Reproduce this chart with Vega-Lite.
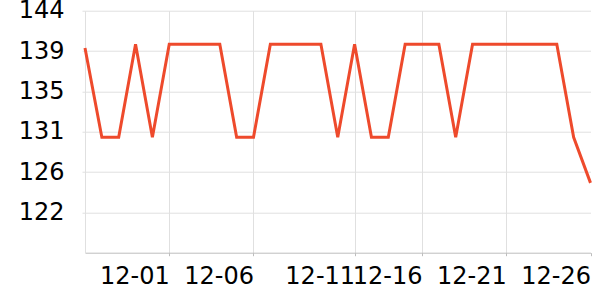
{
  "$schema": "https://vega.github.io/schema/vega-lite/v6.json",
  "autosize": "none",
  "width": 505.5,
  "height": 242,
  "padding": {"left": 85, "top": 10.7, "right": 9.5, "bottom": 47.3},
  "background": "white",
  "config": {"view": {"stroke": null}},
  "data": {"values": [
    {"time": "2023-11-26 00:00", "value": 140.0},
    {"time": "2023-11-27 00:00", "value": 130.4},
    {"time": "2023-11-28 00:00", "value": 130.4},
    {"time": "2023-11-29 00:00", "value": 140.4},
    {"time": "2023-11-30 00:00", "value": 130.4},
    {"time": "2023-12-01 00:00", "value": 140.4},
    {"time": "2023-12-02 00:00", "value": 140.4},
    {"time": "2023-12-03 00:00", "value": 140.4},
    {"time": "2023-12-04 00:00", "value": 140.4},
    {"time": "2023-12-05 00:00", "value": 130.4},
    {"time": "2023-12-06 00:00", "value": 130.4},
    {"time": "2023-12-07 00:00", "value": 140.4},
    {"time": "2023-12-08 00:00", "value": 140.4},
    {"time": "2023-12-09 00:00", "value": 140.4},
    {"time": "2023-12-09 12:00", "value": 140.4},
    {"time": "2023-12-10 00:00", "value": 130.4},
    {"time": "2023-12-11 00:00", "value": 140.4},
    {"time": "2023-12-12 00:00", "value": 130.4},
    {"time": "2023-12-13 00:00", "value": 130.4},
    {"time": "2023-12-15 00:00", "value": 140.4},
    {"time": "2023-12-16 00:00", "value": 140.4},
    {"time": "2023-12-17 00:00", "value": 140.4},
    {"time": "2023-12-18 00:00", "value": 130.4},
    {"time": "2023-12-19 00:00", "value": 140.4},
    {"time": "2023-12-20 00:00", "value": 140.4},
    {"time": "2023-12-21 00:00", "value": 140.4},
    {"time": "2023-12-22 00:00", "value": 140.4},
    {"time": "2023-12-23 00:00", "value": 140.4},
    {"time": "2023-12-24 00:00", "value": 140.4},
    {"time": "2023-12-25 00:00", "value": 130.4},
    {"time": "2023-12-26 00:00", "value": 125.5}
  ]},
  "mark": {"type": "line", "color": "#ee4a2c", "strokeWidth": 3, "strokeJoin": "miter"},
  "encoding": {
    "x": {
      "field": "time",
      "type": "ordinal",
      "sort": null,
      "scale": {"type": "point", "padding": 0},
      "axis": {
        "title": null,
        "values": ["2023-12-01 00:00", "2023-12-06 00:00", "2023-12-11 00:00", "2023-12-16 00:00", "2023-12-21 00:00", "2023-12-26 00:00"],
        "labelExpr": "slice(datum.value, 5, 10)",
        "labelAngle": 0,
        "labelAlign": "right",
        "labelBaseline": "top",
        "labelFont": "DejaVu Sans",
        "labelFontSize": 24,
        "labelColor": "#000000",
        "labelPadding": 9,
        "labelOverlap": false,
        "labelBound": false,
        "grid": true,
        "gridColor": "#e0e0e0",
        "gridWidth": 1,
        "gridOpacity": {"condition": {"test": "datum.value == '2023-12-26 00:00'", "value": 0}, "value": 1},
        "domainColor": "#bdbdbd",
        "domainWidth": 1,
        "tickColor": "#bdbdbd",
        "tickSize": 3
      }
    },
    "y": {
      "field": "value",
      "type": "quantitative",
      "scale": {"domain": [118, 144], "nice": false, "zero": false},
      "axis": {
        "title": null,
        "values": [122.3333, 126.6667, 131, 135.3333, 139.6667, 144],
        "labelExpr": "floor(datum.value)",
        "labelFont": "DejaVu Sans",
        "labelFontSize": 24,
        "labelColor": "#000000",
        "labelPadding": 18,
        "labelOverlap": false,
        "labelBound": false,
        "grid": true,
        "gridColor": "#e0e0e0",
        "gridWidth": 1,
        "domainColor": "#e0e0e0",
        "tickColor": "#e0e0e0",
        "tickSize": 3
      }
    }
  }
}
